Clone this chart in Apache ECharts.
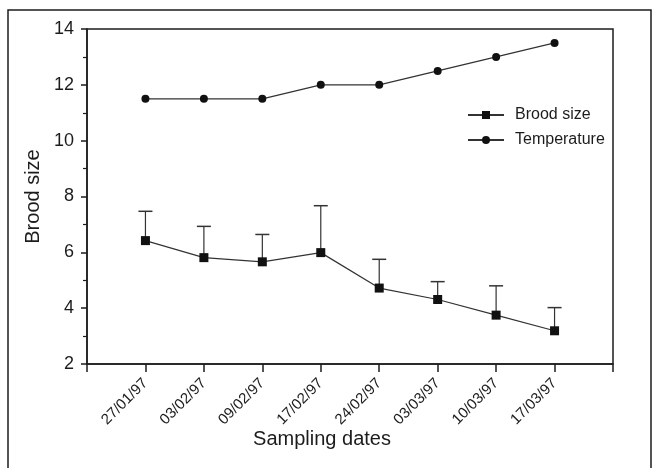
<!DOCTYPE html>
<html>
<head>
<meta charset="utf-8">
<script src="https://cdn.jsdelivr.net/npm/echarts@6/dist/echarts.min.js"></script>
<style>
html,body{margin:0;padding:0;background:#fff;}
#c{width:656px;height:468px;}
</style>
</head>
<body>
<div id="c"></div>
<script>
const dates = ["27/01/97","03/02/97","09/02/97","17/02/97","24/02/97","03/03/97","10/03/97","17/03/97"];
const broodSize = [6.42, 5.81, 5.66, 5.99, 4.72, 4.31, 3.75, 3.19];
const broodUpper = [7.47, 6.93, 6.64, 7.67, 5.75, 4.95, 4.8, 4.02];
const temperature = [11.5, 11.5, 11.5, 12, 12, 12.5, 13, 13.5];
const yTicks = [2, 4, 6, 8, 10, 12, 14];

const FONT = '"Liberation Sans", Arial, sans-serif';
const INK = '#1c1c1c';

const xs = dates.map((d, i) => i + 1);
const broodData = xs.map((x, i) => [x, broodSize[i]]);
const tempData = xs.map((x, i) => [x, temperature[i]]);
const errData = xs.map((x, i) => [x, broodSize[i], broodUpper[i]]);

const chart = echarts.init(document.getElementById('c'), null, {renderer: 'canvas'});
chart.setOption({
  animation: false,
  backgroundColor: '#fff',
  grid: {left: 87, right: 43, top: 29, bottom: 104, show: true, borderColor: INK, borderWidth: 1.5, backgroundColor: 'transparent'},
  xAxis: {
    type: 'value', min: 0, max: dates.length + 1, interval: 1,
    axisLine: {show: true, lineStyle: {color: INK, width: 1.5}},
    axisTick: {show: true, inside: false, length: 8, lineStyle: {color: INK, width: 1.5}},
    splitLine: {show: false},
    axisLabel: {
      rotate: 45, margin: 17, fontSize: 15, color: INK, fontFamily: FONT,
      showMinLabel: true, showMaxLabel: true,
      formatter: v => (v >= 1 && v <= dates.length) ? dates[v - 1] : ''
    }
  },
  yAxis: {
    type: 'value', min: yTicks[0], max: yTicks[yTicks.length - 1], interval: 2,
    name: 'Brood size', nameLocation: 'middle', nameGap: 44, nameRotate: 90,
    nameTextStyle: {fontSize: 20, color: INK, fontFamily: FONT},
    axisLine: {show: true, lineStyle: {color: INK, width: 1.5}},
    axisTick: {show: true, inside: false, length: 6, lineStyle: {color: INK, width: 1.5}},
    minorTick: {show: true, splitNumber: 2, length: 4, lineStyle: {color: INK, width: 1.2}},
    splitLine: {show: false},
    axisLabel: {fontSize: 18, color: INK, fontFamily: FONT, margin: 13}
  },
  legend: {
    orient: 'vertical', left: 467, top: 107, padding: 0, itemWidth: 36, itemHeight: 10, itemGap: 9,
    data: ['Brood size', 'Temperature'],
    textStyle: {fontSize: 16, color: INK, fontFamily: FONT, padding: [0, 0, 0, 6]}
  },
  graphic: [
    {type: 'rect', shape: {x: 8, y: 10, width: 643, height: 470}, style: {fill: 'none', stroke: INK, lineWidth: 1.5}, silent: true},
    {type: 'text', x: 322, y: 439, style: {text: 'Sampling dates', fontSize: 20, fill: INK, fontFamily: FONT, textAlign: 'center', textVerticalAlign: 'middle'}}
  ],
  series: [
    {
      name: 'errors', type: 'custom', data: errData, z: 1,
      renderItem: (params, api) => {
        const x = api.value(0), m = api.value(1), h = api.value(2);
        const p0 = api.coord([x, m]);
        const p1 = api.coord([x, h]);
        const hw = 7;
        return {type: 'group', children: [
          {type: 'line', shape: {x1: p0[0], y1: p0[1], x2: p1[0], y2: p1[1]}, style: {stroke: '#333', lineWidth: 1.2}},
          {type: 'line', shape: {x1: p1[0] - hw, y1: p1[1], x2: p1[0] + hw, y2: p1[1]}, style: {stroke: '#333', lineWidth: 1.5}}
        ]};
      }
    },
    {
      name: 'Brood size', type: 'line', data: broodData, z: 3,
      symbol: 'rect', symbolSize: 9,
      lineStyle: {color: '#333', width: 1.2},
      itemStyle: {color: '#111'}
    },
    {
      name: 'Temperature', type: 'line', data: tempData, z: 3,
      symbol: 'circle', symbolSize: 8,
      lineStyle: {color: '#333', width: 1.2},
      itemStyle: {color: '#111'}
    }
  ]
});
</script>
</body>
</html>
